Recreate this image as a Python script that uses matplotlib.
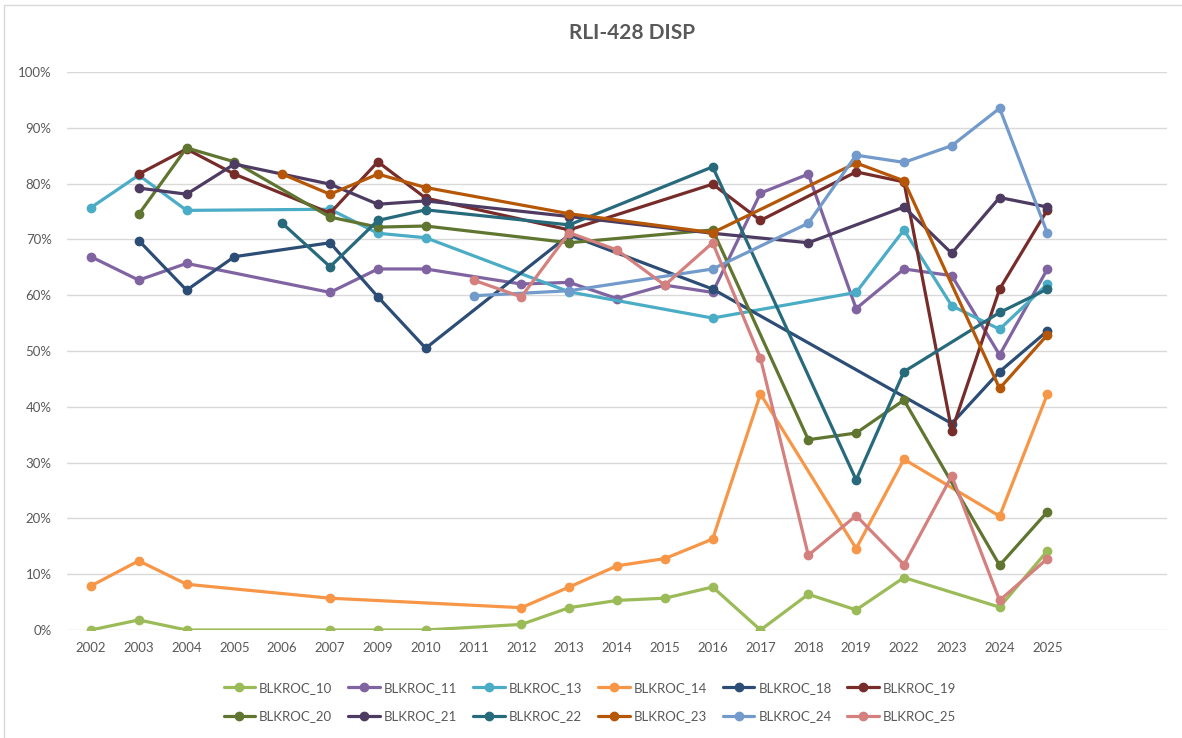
import numpy as np
import matplotlib
matplotlib.use("Agg")
from matplotlib import pyplot as plt
from matplotlib.ticker import FuncFormatter, MultipleLocator
from matplotlib.patches import Rectangle

plt.rcParams['font.family'] = ['Lato', 'DejaVu Sans']

years = ['2002', '2003', '2004', '2005', '2006', '2007', '2009', '2010', '2011', '2012', '2013',
         '2014', '2015', '2016', '2017', '2018', '2019', '2022', '2023', '2024', '2025']

# percent per year, None = no reading that year
b10 = [0, 1.8, 0, None, None, 0, 0, 0, None, 1.0, 4.0, 5.3, 5.7, 7.7, 0, 6.4, 3.6, 9.4, None, 4.1, 14.2]
b11 = [66.9, 62.7, 65.7, None, None, 60.5, 64.7, 64.7, None, 62.0, 62.3, 59.4, 61.8, 60.5, 78.3, 81.7, 57.6, 64.7, 63.5, 49.3, 64.7]
b13 = [75.7, 81.5, 75.2, None, None, 75.4, 71.1, 70.3, None, None, 60.6, None, None, 55.9, None, None, 60.5, 71.7, 58.1, 53.9, 62.0]
b14 = [7.9, 12.4, 8.2, None, None, 5.7, None, None, None, 4.0, 7.7, 11.5, 12.8, 16.3, 42.3, None, 14.6, 30.6, None, 20.4, 42.3]
b18 = [None, 69.8, 60.9, 66.9, None, 69.4, 59.7, 50.5, None, None, 70.8, None, None, 61.1, None, None, None, None, 37.0, 46.3, 53.6]
b19 = [None, 81.7, 86.2, 81.7, None, 74.7, 83.9, 77.4, None, None, 71.7, None, None, 79.9, 73.4, None, 82.1, 80.3, 35.7, 61.1, 75.3]
b20 = [None, 74.5, 86.4, 83.9, None, 74.0, 72.2, 72.4, None, None, 69.4, None, None, 71.7, None, 34.1, 35.3, 41.2, None, 11.6, 21.2]
b21 = [None, 79.2, 78.1, 83.5, None, 79.9, 76.3, 76.9, None, None, 74.1, None, None, 71.1, None, 69.4, None, 75.8, 67.5, 77.5, 75.8]
b22 = [None, None, None, None, 72.9, 65.1, 73.4, 75.3, None, None, 72.6, None, None, 83.0, None, None, 26.9, 46.3, None, 56.9, 61.1]
b23 = [None, None, None, None, 81.7, 78.1, 81.7, 79.3, None, None, 74.6, None, None, 71.2, None, None, 83.7, 80.5, None, 43.3, 52.9]
b24 = [None, None, None, None, None, None, None, None, 59.9, None, 60.8, None, None, 64.7, None, 72.9, 85.1, 83.8, 86.8, 93.5, 71.1]
b25 = [None, None, None, None, None, None, None, None, 62.7, 59.7, 71.2, 68.1, 61.8, 69.4, 48.7, 13.4, 20.5, 11.7, 27.6, 5.3, 12.8]

names = ['BLKROC_10', 'BLKROC_11', 'BLKROC_13', 'BLKROC_14', 'BLKROC_18', 'BLKROC_19',
         'BLKROC_20', 'BLKROC_21', 'BLKROC_22', 'BLKROC_23', 'BLKROC_24', 'BLKROC_25']
series = [b10, b11, b13, b14, b18, b19, b20, b21, b22, b23, b24, b25]
colors = ['#9BBB59', '#8064A2', '#4BACC6', '#F79646', '#2C4D75', '#772C2A',
          '#5F7530', '#4D3B62', '#276A7C', '#B65708', '#729ACA', '#D4807E']

fig = plt.figure(figsize=(11.82, 7.38), dpi=100)
ax = fig.add_axes([67/1182, 1 - 630/738, 1100/1182, 558/738])

x = np.arange(len(years))
lines = []
for name, vals, c in zip(names, series, colors):
    y = np.array([np.nan if v is None else v for v in vals], dtype=float)
    ok = ~np.isnan(y)
    # gaps are bridged: only the years with a value are plotted
    ln, = ax.plot(x[ok], y[ok], color=c, lw=2.3, marker='o', ms=6, label=name,
                  solid_capstyle='round', solid_joinstyle='round')
    lines.append(ln)

ax.set_xlim(-0.5, 22.5)
ax.set_ylim(0, 100)
ax.yaxis.set_major_locator(MultipleLocator(10))
ax.yaxis.set_major_formatter(FuncFormatter(lambda v, p: f'{v:.0f}%'))
ax.set_xticks(x)
ax.set_xticklabels(years)
ax.grid(axis='y', color='#D9D9D9', lw=1)
ax.set_axisbelow(True)
for s in ax.spines.values():
    s.set_visible(False)
ax.tick_params(length=0, labelsize=9.5, labelcolor='#595959')
ax.tick_params(axis='y', pad=11)
ax.tick_params(axis='x', pad=9)

fig.text(632/1182, 1 - 33/738, 'RLI-428 DISP', ha='center', va='center',
         fontsize=15, fontweight='bold', color='#595959')

# legend fills column by column, so interleave to get the rows in order
order = [0, 6, 1, 7, 2, 8, 3, 9, 4, 10, 5, 11]
fig.legend([lines[i] for i in order], [names[i] for i in order],
           loc='center', bbox_to_anchor=(590/1182, 1 - 702/738), ncol=6, frameon=False,
           fontsize=9.5, labelcolor='#595959', handlelength=2.4, handletextpad=0.3,
           columnspacing=1.2, labelspacing=1.25, borderaxespad=0)

# chart frame
fig.patches.append(Rectangle((4/1182, -0.1), 1.2, 1.1 - 5/738, transform=fig.transFigure,
                             fill=False, ec='#D9D9D9', lw=1))

fig.savefig('out.png', dpi=100)
